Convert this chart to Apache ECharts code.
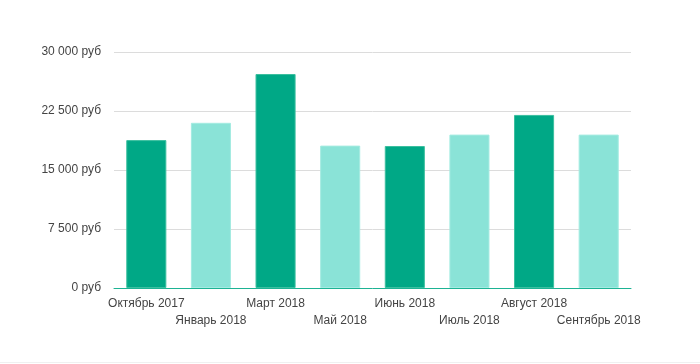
<!DOCTYPE html>
<html><head><meta charset="utf-8">
<script src="https://cdn.jsdelivr.net/npm/echarts@6/dist/echarts.min.js"></script>
<style>html,body{margin:0;padding:0;background:#fff}#c{width:700px;height:362px;border-bottom:1px solid #f0f0f0}</style>
</head><body><div id="c"></div>
<script>
const categories = ['Октябрь 2017','Январь 2018','Март 2018','Май 2018','Июнь 2018','Июль 2018','Август 2018','Сентябрь 2018'];
const values = [18800, 21000, 27200, 18100, 18050, 19500, 22000, 19500];
const barColors = ['#00a886','#8ae3d7'];
const yTicks = [0, 7500, 15000, 22500, 30000];
const chart = echarts.init(document.getElementById('c'));
chart.setOption({
  animation:false,
  grid:{left:114,right:69,top:52,bottom:74},
  xAxis:{type:'category',data:categories,
    axisLine:{lineStyle:{color:'#1db394',width:1}},axisTick:{show:false},
    axisLabel:{interval:0,color:'#444',fontFamily:'Liberation Sans, Arial',fontSize:12,margin:7,lineHeight:17,
      formatter:(v,i)=> i%2 ? '\n'+v : v}},
  yAxis:{type:'value',min:yTicks[0],max:yTicks[yTicks.length-1],interval:7500,
    axisLine:{show:false},axisTick:{show:false},
    splitLine:{lineStyle:{color:'#dcdcdc'}},
    axisLabel:{color:'#444',fontFamily:'Liberation Sans, Arial',fontSize:12,margin:13,
      formatter:v=> (v===0?'0':String(v).replace(/\B(?=(\d{3})+(?!\d))/g,' '))+' руб'}},
  series:[{type:'bar',barWidth:'62%',
    data:values.map((v,i)=>({value:v,itemStyle:{color:barColors[i%2],borderColor:i%2?'#a4ebe1':'#3bbf9f',borderWidth:1}}))}]
});
</script></body></html>
